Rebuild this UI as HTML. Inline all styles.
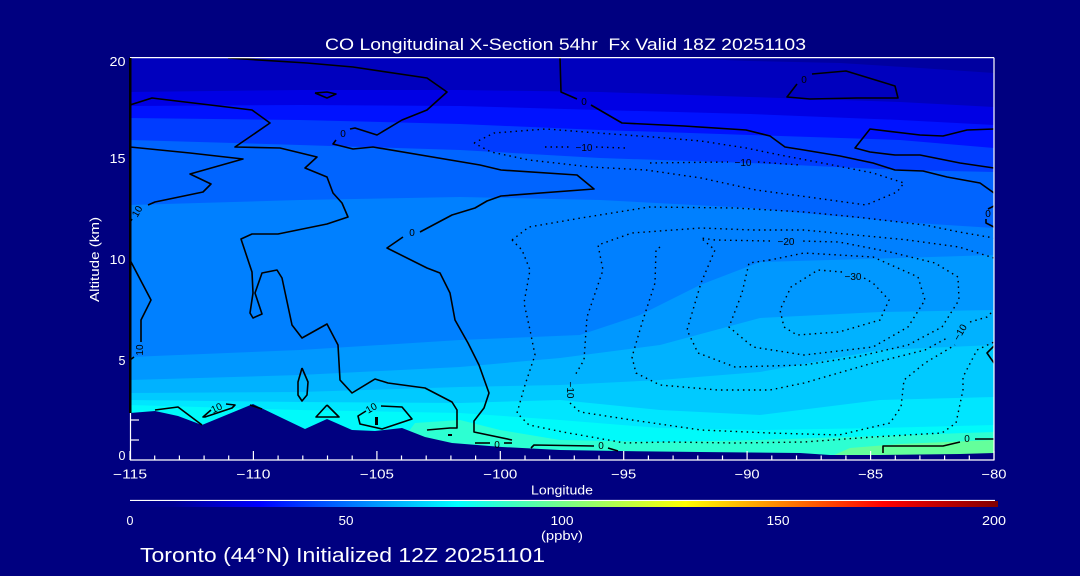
<!DOCTYPE html>
<html><head><meta charset="utf-8"><style>
html,body{margin:0;padding:0;background:#000080;}
svg{display:block;}
text{font-family:"Liberation Sans",sans-serif;}
</style></head><body>
<svg width="1080" height="576" viewBox="0 0 1080 576" xmlns="http://www.w3.org/2000/svg">
<defs>
<linearGradient id="jet" x1="0" x2="1" y1="0" y2="0">
<stop offset="0" stop-color="#000080"/>
<stop offset="0.05" stop-color="#000090"/>
<stop offset="0.15" stop-color="#0000ff"/>
<stop offset="0.377" stop-color="#00ffff"/>
<stop offset="0.64" stop-color="#ffff00"/>
<stop offset="0.868" stop-color="#ff0000"/>
<stop offset="1" stop-color="#800000"/>
</linearGradient>
<clipPath id="pc"><rect x="130" y="58" width="864" height="402"/></clipPath>
</defs>
<rect width="1080" height="576" fill="#000080"/>

<g clip-path="url(#pc)">
<rect x="130" y="58" width="864" height="402" fill="rgb(100,255,155)"/>
<polygon fill="rgb(45,255,210)" points="130,470 800,470 850,448 900,444 994,440 994,57 130,57"/>
<polygon fill="rgb(0,250,250)" points="130,470 380,470 415,423 460,420 500,430 560,440 660,442 760,440 880,436 994,432 994,57 130,57"/>
<polygon fill="rgb(0,230,255)" points="130,405 300,410 460,413 560,420 660,428 760,430 880,428 994,425 994,57 130,57"/>
<polygon fill="rgb(0,202,255)" points="130,400 300,402 460,403 560,400 660,410 760,415 880,400 994,397 994,57 130,57"/>
<polygon fill="rgb(0,178,255)" points="130,393 300,392 460,387 560,385 660,380 760,372 880,350 994,345 994,57 130,57"/>
<polygon fill="rgb(0,152,255)" points="130,380 300,375 460,367 560,358 660,345 760,318 880,312 994,310 994,57 130,57"/>
<polygon fill="rgb(0,128,255)" points="130,357 300,350 460,340 580,335 640,315 700,285 760,262 900,258 994,255 994,57 130,57"/>
<polygon fill="rgb(0,100,255)" points="130,205 300,200 460,197 600,200 750,208 900,222 994,228 994,57 130,57"/>
<polygon fill="rgb(0,60,255)" points="130,140 300,145 460,150 600,158 750,163 900,170 994,172 994,57 130,57"/>
<polygon fill="rgb(0,18,255)" points="130,118 300,120 460,124 600,130 750,135 900,140 994,148 994,57 130,57"/>
<polygon fill="rgb(0,0,228)" points="130,106 300,105 460,106 600,110 750,114 900,120 994,125 994,57 130,57"/>
<polygon fill="rgb(0,0,190)" points="130,92 300,90 460,90 600,92 750,97 900,102 994,107 994,57 130,57"/>
<polygon fill="rgb(0,0,160)" points="130,57 650,57 750,61 840,63 920,68 994,73 994,57"/>

<!-- terrain -->
<polygon fill="#000080" points="130,413 155,411 178,416 202,425 253,404 282,418 305,429 327,419 352,430 375,431 402,428 425,437 452,443 502,447 560,450 620,451 700,452 800,453 830,455 880,455 960,454 994,453 994,461 130,461"/>

<!-- dotted negative contours -->
<g fill="none" stroke="#000" stroke-width="1.4" stroke-dasharray="1.5 4">
<polyline points="474,143 494,133 546,129 598,133 653,137 701,141 746,148 780,155 822,163 873,173 904,183 897,192 866,205 808,197 756,190 701,178 646,170 591,167 529,160 491,152 474,143"/>
<polyline points="545,147 572,147"/>
<polyline points="596,147 625,148"/>
<polyline points="650,163 728,162"/>
<polyline points="758,162 800,165"/>
<polyline points="512,240 529,227 581,218 649,207 735,208 804,212 856,217 925,225 959,232 994,238"/>
<polyline points="512,240 522,250 530,270 524,303 530,330 535,355 525,385 517,413 529,425 563,432 625,443 667,442 735,443 804,442 873,437 942,433 956,423 963,390 963,377 977,350 994,342"/>
<polyline points="994,258 959,247 908,240 856,235 804,230 753,230 701,228 632,233 598,245 603,270 587,317 584,360 574,377"/>
<polyline points="570,403 580,412 632,420 701,430 770,433 839,435 890,423 901,407 904,380 925,363 955,345"/>
<polyline points="970,322 987,317 994,310"/>
<polyline points="660,247 656,250 655,283 642,323 632,357 636,373 660,385 718,390 770,390 804,383 873,363 925,350 949,337"/>
<polyline points="770,241 715,240 701,238 715,250 701,283 687,330 698,353 735,367 804,365 856,357 908,345 942,327 959,300 958,277 935,263 890,252 839,242 800,241"/>
<polyline points="770,260 749,263 742,293 729,327 753,347 804,355 873,347 908,327 925,300 918,277 873,257 804,253 770,260"/>
<polyline points="842,272 818,270 791,287 780,310 784,327 797,335 839,332 880,320 889,300 873,283 864,278"/>
</g>

<!-- solid contours -->
<g fill="none" stroke="#000" stroke-width="1.6" stroke-linejoin="round">
<polyline points="560,58 561,92 577,99"/>
<polyline points="591,105 622,123 684,126 746,130 770,136 785,147 804,150 840,156 873,163 895,170 923,171 947,177 980,183 994,193"/>
<polyline points="994,129 967,130 943,136 920,135 870,129 855,148 870,152 895,155 920,155 960,163 994,168"/>
<polyline points="797,84 787,97 810,99 857,98 898,98 895,86 846,71 812,74"/>
<polyline points="994,206 988,209"/>
<polyline points="986,219 986,223 994,227"/>
<polyline points="994,346 987,353 994,363"/>
<polyline points="130,105 152,98 160,99 252,110 270,123 235,147 280,148 317,157 305,168 327,177 333,193 342,203 348,217 327,224 278,234 252,234 241,239 252,272 253,293 250,313 253,318 262,314 255,293 262,273 277,270 282,278 292,325 302,338 327,324 338,345 340,380 352,393 375,379 388,383 425,388 452,402 457,410 457,428 450,428 427,430"/>
<polyline points="130,147 190,153 243,159 190,174 211,184 203,192 155,202 148,205"/>
<polyline points="132,219 130,222"/>
<polyline points="228,58 307,63 353,67 427,78 447,92 427,110 402,120 377,135 355,128 350,129"/>
<polyline points="336,140 333,144 353,149 373,147 480,165 501,170 577,175 594,189 501,196 487,201 475,208 452,215 420,232"/>
<polyline points="403,237 387,248 427,268 440,273 450,293 455,320 468,343 479,365 489,393 484,408 474,421 474,432 512,440"/>
<polyline points="475,443 490,443"/>
<polyline points="504,443 512,443"/>
<polyline points="531,448 534,445 594,446"/>
<polyline points="608,448 618,451"/>
<polyline points="883,453 883,446 943,446 960,442"/>
<polyline points="975,439 994,439"/>
<polyline points="130,260 151,300 141,320 141,342"/>
<polyline points="134,357 130,360"/>
<polyline points="302,368 308,382 307,395 302,401 298,395 298,382 302,368"/>
<polyline points="327,405 339,417 316,417 327,405"/>
<polyline points="366,411 358,416 360,424 382,429 412,419 402,407 381,406"/>
<polyline points="211,410 203,417 205,417 232,408 235,405 226,404"/>
<polyline points="155,410 178,407 202,425"/>
<polyline points="250,405 262,409"/>
<polyline points="315,93 327,92 336,94 327,98 315,93"/>
</g>
<rect x="375" y="417" width="3" height="8" fill="#000"/>
<rect x="448" y="434" width="4" height="2" fill="#000"/>

<!-- contour labels -->
<g fill="#000" font-size="10">
<text x="584" y="105" text-anchor="middle">0</text>
<text x="804" y="83" text-anchor="middle">0</text>
<text x="343" y="137" text-anchor="middle">0</text>
<text x="412" y="236" text-anchor="middle">0</text>
<text x="497" y="448" text-anchor="middle">0</text>
<text x="601" y="449" text-anchor="middle">0</text>
<text x="967" y="442" text-anchor="middle">0</text>
<text x="988" y="217" text-anchor="middle">0</text>
<text x="584" y="151" text-anchor="middle">−10</text>
<text x="743" y="166" text-anchor="middle">−10</text>
<text x="786" y="245" text-anchor="middle">−20</text>
<text x="853" y="280" text-anchor="middle">−30</text>
<text transform="translate(567,390) rotate(90)" text-anchor="middle">−10</text>
<text transform="translate(963,334) rotate(-60)" text-anchor="middle">−10</text>
<text transform="translate(140,213) rotate(-60)" text-anchor="middle">10</text>
<text transform="translate(143,350) rotate(-90)" text-anchor="middle">10</text>
<text transform="translate(218,411) rotate(-25)" text-anchor="middle">10</text>
<text transform="translate(373,411) rotate(-30)" text-anchor="middle">10</text>
</g>
</g>

<!-- axes -->
<g stroke="#fff" stroke-width="1.2" fill="none">
<line x1="130" y1="57.6" x2="994" y2="57.6"/>
<line x1="994" y1="57.6" x2="994" y2="460"/>
<line x1="130" y1="460" x2="994.5" y2="460"/>
<line x1="130.5" y1="413" x2="130.5" y2="460"/>
<line x1="130" y1="440" x2="139" y2="440"/>
<line x1="130" y1="420" x2="139" y2="420"/>
<line x1="130" y1="500.5" x2="995" y2="500.5"/>
</g>
<rect x="129" y="58" width="2.5" height="355" fill="#000"/>
<g stroke="#fff" stroke-width="1.2">
<line x1="130" y1="451" x2="130" y2="460"/>
<line x1="154.7" y1="455.5" x2="154.7" y2="460"/><line x1="179.4" y1="455.5" x2="179.4" y2="460"/><line x1="204.1" y1="455.5" x2="204.1" y2="460"/><line x1="228.7" y1="455.5" x2="228.7" y2="460"/>
<line x1="253.4" y1="451" x2="253.4" y2="460"/>
<line x1="278.1" y1="455.5" x2="278.1" y2="460"/><line x1="302.8" y1="455.5" x2="302.8" y2="460"/><line x1="327.5" y1="455.5" x2="327.5" y2="460"/><line x1="352.2" y1="455.5" x2="352.2" y2="460"/>
<line x1="376.9" y1="451" x2="376.9" y2="460"/>
<line x1="401.5" y1="455.5" x2="401.5" y2="460"/><line x1="426.2" y1="455.5" x2="426.2" y2="460"/><line x1="450.9" y1="455.5" x2="450.9" y2="460"/><line x1="475.6" y1="455.5" x2="475.6" y2="460"/>
<line x1="500.3" y1="451" x2="500.3" y2="460"/>
<line x1="525" y1="455.5" x2="525" y2="460"/><line x1="549.7" y1="455.5" x2="549.7" y2="460"/><line x1="574.3" y1="455.5" x2="574.3" y2="460"/><line x1="599" y1="455.5" x2="599" y2="460"/>
<line x1="623.7" y1="451" x2="623.7" y2="460"/>
<line x1="648.4" y1="455.5" x2="648.4" y2="460"/><line x1="673.1" y1="455.5" x2="673.1" y2="460"/><line x1="697.8" y1="455.5" x2="697.8" y2="460"/><line x1="722.5" y1="455.5" x2="722.5" y2="460"/>
<line x1="747.1" y1="451" x2="747.1" y2="460"/>
<line x1="771.8" y1="455.5" x2="771.8" y2="460"/><line x1="796.5" y1="455.5" x2="796.5" y2="460"/><line x1="821.2" y1="455.5" x2="821.2" y2="460"/><line x1="845.9" y1="455.5" x2="845.9" y2="460"/>
<line x1="870.6" y1="451" x2="870.6" y2="460"/>
<line x1="895.3" y1="455.5" x2="895.3" y2="460"/><line x1="919.9" y1="455.5" x2="919.9" y2="460"/><line x1="944.6" y1="455.5" x2="944.6" y2="460"/><line x1="969.3" y1="455.5" x2="969.3" y2="460"/>
<line x1="994" y1="451" x2="994" y2="460"/>
</g>

<!-- colorbar -->
<rect x="130" y="501" width="868" height="6" fill="url(#jet)"/>

<!-- text -->
<g fill="#fff">
<text x="325" y="50" font-size="17" textLength="481" lengthAdjust="spacingAndGlyphs">CO Longitudinal X-Section 54hr&#160; Fx Valid 18Z 20251103</text>
<g font-size="12.5" text-anchor="end">
<text x="125.5" y="66" textLength="16" lengthAdjust="spacingAndGlyphs">20</text>
<text x="125.5" y="163" textLength="16" lengthAdjust="spacingAndGlyphs">15</text>
<text x="125.5" y="264" textLength="16" lengthAdjust="spacingAndGlyphs">10</text>
<text x="125.5" y="365">5</text>
<text x="125.5" y="460">0</text>
</g>
<text transform="translate(99,259.5) rotate(-90)" font-size="12.5" text-anchor="middle" textLength="85" lengthAdjust="spacingAndGlyphs">Altitude (km)</text>
<g font-size="12.5" text-anchor="middle">
<text x="130" y="478.5" textLength="34" lengthAdjust="spacingAndGlyphs">−115</text>
<text x="253.4" y="478.5" textLength="34" lengthAdjust="spacingAndGlyphs">−110</text>
<text x="376.9" y="478.5" textLength="34" lengthAdjust="spacingAndGlyphs">−105</text>
<text x="500.3" y="478.5" textLength="34" lengthAdjust="spacingAndGlyphs">−100</text>
<text x="623.7" y="478.5" textLength="25" lengthAdjust="spacingAndGlyphs">−95</text>
<text x="747.1" y="478.5" textLength="25" lengthAdjust="spacingAndGlyphs">−90</text>
<text x="870.6" y="478.5" textLength="25" lengthAdjust="spacingAndGlyphs">−85</text>
<text x="994" y="478.5" textLength="25" lengthAdjust="spacingAndGlyphs">−80</text>
<text x="562" y="494.5" textLength="62" lengthAdjust="spacingAndGlyphs">Longitude</text>
<text x="130" y="525">0</text>
<text x="346" y="525" textLength="15" lengthAdjust="spacingAndGlyphs">50</text>
<text x="562" y="525" textLength="23" lengthAdjust="spacingAndGlyphs">100</text>
<text x="778" y="525" textLength="23" lengthAdjust="spacingAndGlyphs">150</text>
<text x="994" y="525" textLength="24" lengthAdjust="spacingAndGlyphs">200</text>
<text x="562" y="540" textLength="42" lengthAdjust="spacingAndGlyphs">(ppbv)</text>
</g>
<text x="140" y="562" font-size="20.5" textLength="405" lengthAdjust="spacingAndGlyphs">Toronto (44°N) Initialized 12Z 20251101</text>
</g>
</svg>
</body></html>
